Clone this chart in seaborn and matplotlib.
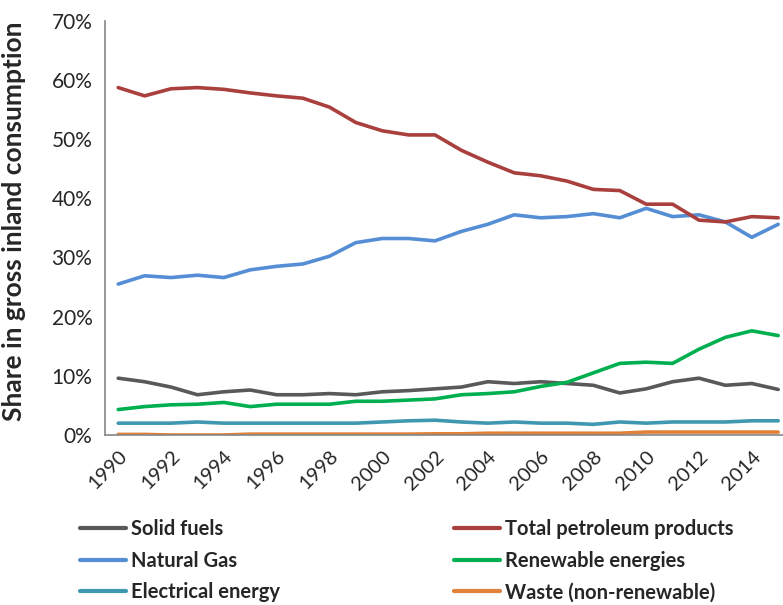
import pandas as pd
import matplotlib.pyplot as plt
import seaborn as sns
from matplotlib.ticker import PercentFormatter

years = list(range(1990, 2016))

solid_fuels = [9.6, 9.0, 8.1, 6.8, 7.3, 7.6, 6.8, 6.8, 7.0, 6.8, 7.3, 7.5, 7.8, 8.1,
               9.0, 8.7, 9.0, 8.7, 8.4, 7.1, 7.8, 9.0, 9.6, 8.4, 8.7, 7.7]
petroleum = [58.7, 57.3, 58.5, 58.7, 58.4, 57.8, 57.3, 56.9, 55.4, 52.8, 51.4, 50.7,
             50.7, 48.1, 46.1, 44.3, 43.8, 42.9, 41.5, 41.3, 39.0, 39.0, 36.3, 36.0,
             36.9, 36.7]
natural_gas = [25.5, 26.9, 26.6, 27.0, 26.6, 27.9, 28.5, 28.9, 30.2, 32.5, 33.2, 33.2,
               32.8, 34.4, 35.6, 37.2, 36.7, 36.9, 37.4, 36.7, 38.3, 36.9, 37.2, 36.0,
               33.4, 35.6]
renewables = [4.3, 4.8, 5.1, 5.2, 5.5, 4.8, 5.2, 5.2, 5.2, 5.7, 5.7, 5.9, 6.1, 6.8,
              7.0, 7.3, 8.2, 8.9, 10.5, 12.1, 12.3, 12.1, 14.5, 16.5, 17.6, 16.8]
electrical = [2.0, 2.0, 2.0, 2.2, 2.0, 2.0, 2.0, 2.0, 2.0, 2.0, 2.2, 2.4, 2.5, 2.2,
              2.0, 2.2, 2.0, 2.0, 1.8, 2.2, 2.0, 2.2, 2.2, 2.2, 2.4, 2.4]
waste = [0.1, 0.1, 0.0, 0.0, 0.0, 0.15, 0.15, 0.15, 0.15, 0.15, 0.15, 0.15, 0.2, 0.2,
         0.3, 0.3, 0.3, 0.3, 0.3, 0.3, 0.5, 0.5, 0.5, 0.5, 0.5, 0.5]

series = {
    "Solid fuels": solid_fuels,
    "Natural Gas": natural_gas,
    "Electrical energy": electrical,
    "Total petroleum products": petroleum,
    "Renewable energies": renewables,
    "Waste (non-renewable)": waste,
}
colors = {
    "Solid fuels": "#595959",
    "Natural Gas": "#558ED5",
    "Electrical energy": "#4098B0",
    "Total petroleum products": "#A9403D",
    "Renewable energies": "#00B050",
    "Waste (non-renewable)": "#E0823A",
}

rows = []
for name, vals in series.items():
    for i, v in enumerate(vals):
        rows.append({"pos": i, "year": years[i], "share": v / 100, "source": name})
df = pd.DataFrame(rows)

sns.set_style("white")
plt.rcParams["font.family"] = ["Lato", "DejaVu Sans"]

fig = plt.figure(figsize=(7.83, 6.05), dpi=100)
W, H = 783, 605
ax = fig.add_axes([105 / W, 1 - 435 / H, (791.4 - 105) / W, (435 - 20.7) / H])

sns.lineplot(data=df, x="pos", y="share", hue="source", palette=colors,
             hue_order=list(series.keys()), linewidth=2.6, ax=ax, legend=False)

ax.set_xlim(-0.5, 25.5)
ax.set_ylim(0, 0.7)
ax.yaxis.set_major_formatter(PercentFormatter(1.0, decimals=0))
ax.set_yticks([i / 10 for i in range(8)])
ax.set_xticks([i - 0.5 for i in range(27)], minor=False)
ax.set_xticklabels([])
ax.set_xticks(list(range(0, 26, 2)), minor=True)
ax.set_xticklabels([str(years[i]) for i in range(0, 26, 2)], minor=True,
                   rotation=45, ha="right", rotation_mode="anchor", fontsize=14.5)
ax.tick_params(axis="x", which="minor", length=0, pad=9)
ax.tick_params(axis="x", which="major", length=5, color="#868686", width=1)
ax.tick_params(axis="y", length=5, color="#868686", width=1, labelsize=15, pad=4)

for s in ["top", "right"]:
    ax.spines[s].set_visible(False)
for s in ["left", "bottom"]:
    ax.spines[s].set_color("#868686")
    ax.spines[s].set_linewidth(1.2)

ax.set_xlabel("")
ax.set_ylabel("Share in gross inland consumption", fontsize=19, fontweight="bold",
              labelpad=6)
ax.yaxis.set_label_coords(-0.115, 0.515)

handles = [plt.Line2D([], [], color=colors[n], linewidth=3) for n in series]
fig.legend(handles, list(series.keys()), ncol=2, loc="upper left",
           bbox_to_anchor=(62 / W, 1 - 501 / H), frameon=False,
           prop={"weight": "bold", "size": 14.5}, handlelength=2.3,
           handletextpad=0.25, columnspacing=8.6, labelspacing=0.58)

fig.savefig("out.png", dpi=100)
